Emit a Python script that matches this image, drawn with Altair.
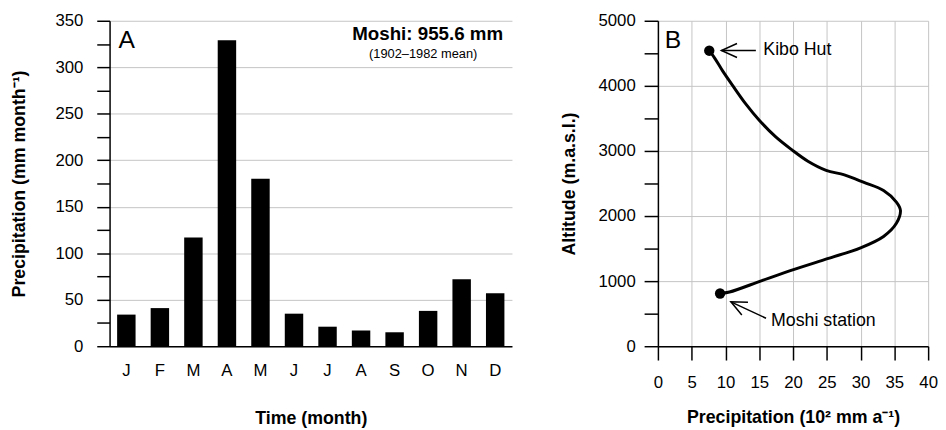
import altair as alt
import pandas as pd

# ---------------- data ----------------
months = ["J", "F", "M", "A", "M", "J", "J", "A", "S", "O", "N", "D"]
monthly_precip = [34, 41, 117, 329, 180, 35, 21, 17, 15, 38, 72, 57]

profile_precip = [9.2, 10.6, 15.4, 20.3, 25.1, 30.0, 33.4, 35.3, 35.9, 35.3, 33.4,
                  30.5, 27.6, 24.9, 22.2, 19.8, 17.4, 15.0, 13.0, 11.1, 9.6, 8.4, 7.6]
profile_alt = [810, 833, 1008, 1184, 1345, 1511, 1686, 1888, 2089, 2214, 2391,
               2516, 2632, 2703, 2843, 3020, 3220, 3472, 3723, 4000, 4226, 4427, 4540]

station_names = ["Moshi station", "Kibo Hut"]
station_precip = [9.2, 7.6]
station_alt = [810, 4540]

arrow_tip_x = [10.8, 9.4]
arrow_tip_y = [682, 4543]
arrow_tail_x = [16.0, 14.5]
arrow_tail_y = [430, 4543]
arrow_angle = [26, 0]
label_x = [16.75, 15.6]
label_y = [380, 4543]

FONT = "Liberation Sans"
GRID = "#c4c4c4"

# ---------------- panel A ----------------
dfA = pd.DataFrame({"i": list(range(len(months))), "p": monthly_precip})
label_expr = "[" + ",".join(f"'{m}'" for m in months) + "][datum.value]"

xA = alt.X("i:O",
           scale=alt.Scale(paddingInner=0.45, paddingOuter=0.225),
           axis=alt.Axis(title="Time (month)", labelExpr=label_expr, labelAngle=0,
                         ticks=False, labelPadding=17, titlePadding=31,
                         domainWidth=1.5, grid=False))
yA = alt.Y("p:Q",
           scale=alt.Scale(domain=[0, 350], nice=False),
           axis=alt.Axis(title="Precipitation (mm month⁻¹)",
                         values=list(range(0, 351, 25)),
                         labelExpr="datum.value % 50 === 0 ? datum.label : ''",
                         gridOpacity={"condition": {"test": "datum.value % 50 === 0", "value": 1}, "value": 0},
                         tickSize=13, labelPadding=14, titlePadding=27, labelFlush=False,
                         domainWidth=1.5, tickWidth=1.5, grid=True))

barsA = alt.Chart(dfA).mark_bar(color="black").encode(x=xA, y=yA)

txtA = alt.Chart(pd.DataFrame({"t": ["A"]})).mark_text(
    align="left", baseline="alphabetic", fontSize=25, font=FONT, color="black"
).encode(text="t:N", x=alt.value(9), y=alt.value(28))

txtMoshi = alt.Chart(pd.DataFrame({"t": ["Moshi: 955.6 mm"]})).mark_text(
    align="right", baseline="alphabetic", fontSize=19, fontWeight="bold", font=FONT, color="black"
).encode(text="t:N", x=alt.value(399), y=alt.value(20))

txtMean = alt.Chart(pd.DataFrame({"t": ["(1902–1982 mean)"]})).mark_text(
    align="center", baseline="alphabetic", fontSize=13, font=FONT, color="black"
).encode(text="t:N", x=alt.value(318), y=alt.value(38))

panelA = alt.layer(barsA, txtA, txtMoshi, txtMean).properties(width=408, height=330)

# ---------------- panel B ----------------
dfProf = pd.DataFrame({"x": profile_precip, "y": profile_alt, "o": list(range(len(profile_alt)))})
dfSt = pd.DataFrame({"name": station_names, "x": station_precip, "y": station_alt})
dfArr = pd.DataFrame({"name": station_names, "tx": arrow_tip_x, "ty": arrow_tip_y,
                      "ex": arrow_tail_x, "ey": arrow_tail_y, "ang": arrow_angle,
                      "lx": label_x, "ly": label_y})

xScaleB = alt.Scale(domain=[0, 40], nice=False)
yScaleB = alt.Scale(domain=[0, 5000], nice=False)
xAxisB = alt.Axis(title="Precipitation (10² mm a⁻¹)", values=list(range(0, 41, 5)),
                  tickSize=14, labelPadding=15, titlePadding=18, domainWidth=1.5,
                  labelFlush=False, tickWidth=1.5, grid=True)
yAxisB = alt.Axis(title="Altitude (m.a.s.l.)", values=list(range(0, 5001, 500)),
                  format="d",
                  labelExpr="datum.value % 1000 === 0 ? datum.label : ''",
                  gridOpacity={"condition": {"test": "datum.value % 1000 === 0", "value": 1}, "value": 0},
                  tickSize=14, labelPadding=9, titlePadding=20, domainWidth=1.5,
                  labelFlush=False, tickWidth=1.5, grid=True)

lineB = alt.Chart(dfProf).mark_line(color="black", strokeWidth=3, interpolate="catmull-rom").encode(
    x=alt.X("x:Q", scale=xScaleB, axis=xAxisB),
    y=alt.Y("y:Q", scale=yScaleB, axis=yAxisB),
    order="o:Q")

dotsB = alt.Chart(dfSt).mark_point(filled=True, color="black", size=110, opacity=1).encode(
    x=alt.X("x:Q", scale=xScaleB, axis=xAxisB),
    y=alt.Y("y:Q", scale=yScaleB, axis=yAxisB))

shaftB = alt.Chart(dfArr).mark_rule(color="black", strokeWidth=1.5).encode(
    x=alt.X("tx:Q", scale=xScaleB, axis=xAxisB), x2="ex:Q",
    y=alt.Y("ty:Q", scale=yScaleB, axis=yAxisB), y2="ey:Q")

headB = alt.Chart(dfArr).mark_point(
    shape="M 1 -0.45 L 0 0 L 1 0.45", filled=False, color="black",
    strokeWidth=1.5, size=1000, opacity=1
).encode(
    x=alt.X("tx:Q", scale=xScaleB, axis=xAxisB),
    y=alt.Y("ty:Q", scale=yScaleB, axis=yAxisB),
    angle=alt.Angle("ang:Q", scale=None))

labB = alt.Chart(dfArr).mark_text(align="left", baseline="middle", fontSize=18, font=FONT, color="black").encode(
    x=alt.X("lx:Q", scale=xScaleB, axis=xAxisB),
    y=alt.Y("ly:Q", scale=yScaleB, axis=yAxisB),
    text="name:N")

txtB = alt.Chart(pd.DataFrame({"t": ["B"]})).mark_text(
    align="left", baseline="alphabetic", fontSize=25, font=FONT, color="black"
).encode(text="t:N", x=alt.value(7), y=alt.value(28))

panelB = alt.layer(lineB, shaftB, headB, dotsB, labB, txtB).properties(width=274, height=330)

chart = alt.hconcat(panelA, panelB, spacing=49).properties(
    padding={"left": 2, "top": 1, "right": 0, "bottom": 0}
).configure(font=FONT).configure_view(stroke=None).configure_axis(
    labelFontSize=17, titleFontSize=18, titleFontWeight="bold", labelFont=FONT, titleFont=FONT,
    labelColor="black", titleColor="black", domainColor="black", tickColor="black",
    gridColor=GRID, gridWidth=1
)

chart.save("out.html", embed_options={"renderer": "svg", "actions": False})
